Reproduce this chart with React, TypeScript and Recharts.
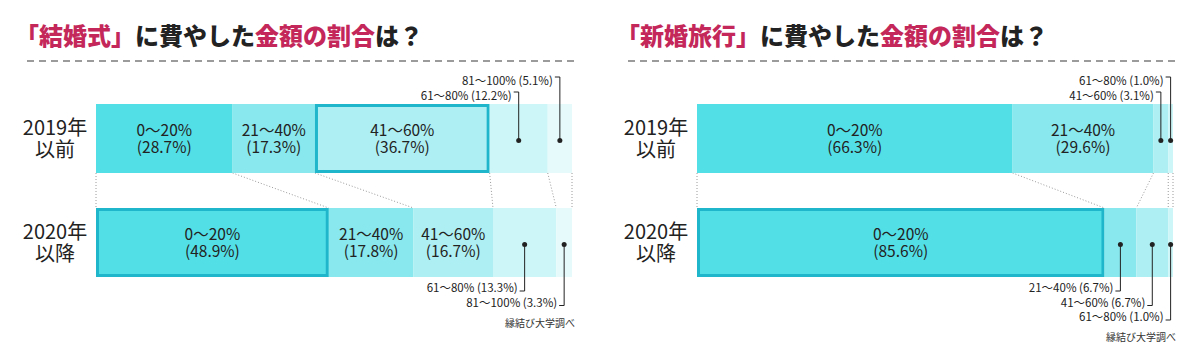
import { BarChart, Bar, XAxis, YAxis } from 'recharts'

const FONT = '"Noto Sans CJK JP", "Noto Sans", sans-serif'

// categories
const years = ['2019年', '2020年']
const periods = ['以前', '以降']
const ranges = ['0〜20%', '21〜40%', '41〜60%', '61〜80%', '81〜100%']

// shares (%)
const weddingBefore = [28.7, 17.3, 36.7, 12.2, 5.1]
const weddingAfter = [48.9, 17.8, 16.7, 13.3, 3.3]
const honeymoonBefore = [66.3, 29.6, 3.1, 1.0]
const honeymoonAfter = [85.6, 6.7, 6.7, 1.0]

// which segment is framed in each row (-1 = none)
const weddingHighlight = [2, 0]
const honeymoonHighlight = [-1, 0]

const COLORS = ['#53dfe6', '#88e8ed', '#aeeff3', '#cdf6f8', '#e7fafb']
const BORDER = '#1fb6cb'
const ACCENT = '#c4285a'
const INK = '#222'

const CHART_W = 600
const CHART_H = 358
const M_TOP = 86
const M_BOTTOM = 64
const M_RIGHT = 28
const AXIS_W = 96
const BAR = 69
const GAP = (CHART_H - M_TOP - M_BOTTOM) / 2 - BAR
const INLINE_MIN = 15

type Cfg = {
    before: number[]
    after: number[]
    highlight: number[]
}

const sum = (a: number[]) => a.reduce((s, v) => s + v, 0)

function makeShape(cfg: Cfg, seg: number) {
    return (p: any) => {
        const { x, y, width, height } = p
        const row = p.payload.row
        const vals = row === 0 ? cfg.before : cfg.after
        const v = vals[seg]
        if (!v || !width) return <g />
        const ppu = width / v
        const origin = x - sum(vals.slice(0, seg)) * ppu
        const cx = x + width / 2
        const cy = y + height / 2
        const els: any[] = []

        els.push(<rect key="r" x={x} y={y} width={width} height={height} fill={COLORS[seg]} />)
        if (cfg.highlight[row] === seg) {
            els.push(
                <rect key="h" x={x + 1.5} y={y + 1.5} width={width - 3} height={height - 3}
                    fill="none" stroke={BORDER} strokeWidth={3} />
            )
        }

        if (v >= INLINE_MIN) {
            els.push(
                <text key="t" x={cx} y={cy - 3} textAnchor="middle" fontSize={15.5} fill={INK} fontFamily={FONT}>
                    <tspan x={cx}>{ranges[seg]}</tspan>
                    <tspan x={cx} dy={17}>{`(${v.toFixed(1)}%)`}</tspan>
                </text>
            )
        } else {
            // small shares get a leader line to a label above (first row) or below (second row)
            const small = vals.map((_, i) => i).filter((i) => vals[i] < INLINE_MIN)
            const k = small.indexOf(seg)
            const dotY = cy + 2
            const labelY = row === 0 ? y - 9 - k * 15 : y + height + 10 + k * 14.5
            const tickY = row === 0 ? labelY - 3 : labelY + 4
            els.push(
                <circle key="d" cx={cx} cy={dotY} r={2.5} fill={INK} />,
                <polyline key="l" points={`${cx},${dotY} ${cx},${tickY} ${cx - 5},${tickY}`}
                    fill="none" stroke={INK} strokeWidth={1} />,
                <text key="ct" x={cx - 7} y={labelY} textAnchor="end" dominantBaseline="central"
                    fontSize={11.5} fill={INK} fontFamily={FONT}>{`${ranges[seg]} (${v.toFixed(1)}%)`}</text>
            )
        }

        if (row === 0) {
            const endX = origin + sum(cfg.after.slice(0, seg + 1)) * ppu
            const dot = { stroke: '#9a9a9a', strokeWidth: 1, strokeDasharray: '1 2' }
            els.push(<line key="c" x1={x + width} y1={y + height} x2={endX} y2={y + height + GAP} {...dot} />)
            if (seg === 0) {
                els.push(<line key="c0" x1={x} y1={y + height} x2={origin} y2={y + height + GAP} {...dot} />)
            }
        }
        return <g>{els}</g>
    }
}

function CatTick(props: any) {
    const { x, y, payload } = props
    const i = years.indexOf(payload.value)
    return (
        <text x={x - 39} y={y - 3} textAnchor="middle" fontSize={20} fill={INK} fontFamily={FONT}>
            <tspan x={x - 39}>{years[i]}</tspan>
            <tspan x={x - 39} dy={22}>{periods[i]}</tspan>
        </text>
    )
}

function Panel({ left, topic, cfg }: { left: number; topic: string; cfg: Cfg }) {
    const keys = cfg.before.map((_, i) => `s${i}`)
    const rows = years.map((cat, r) => {
        const vals = r === 0 ? cfg.before : cfg.after
        const o: any = { cat, row: r }
        keys.forEach((k, i) => (o[k] = vals[i]))
        return o
    })
    const nSmall = cfg.after.filter((v) => v < INLINE_MIN).length
    const sourceY = CHART_H - M_BOTTOM - (104 - BAR) / 2 + 10 + nSmall * 14.5 + 7

    return (
        <div style={{ position: 'absolute', left, top: 0, width: CHART_W, height: CHART_H }}>
            <div style={{
                position: 'absolute', left: 15, top: 22, fontFamily: FONT, fontWeight: 900,
                fontSize: 24, lineHeight: '26px', color: INK, whiteSpace: 'nowrap'
            }}>
                <span style={{ color: ACCENT }}>「{topic}」</span>に費やした
                <span style={{ color: ACCENT }}>金額の割合</span>は？
            </div>
            <svg style={{ position: 'absolute', left: 0, top: 0 }} width={CHART_W} height={70}>
                <line x1={27} y1={61} x2={578} y2={61} stroke="#9b9b9b" strokeWidth={2} strokeDasharray="7 5" />
            </svg>
            <div style={{ position: 'absolute', left: 0, top: 0 }}>
                <BarChart width={CHART_W} height={CHART_H} data={rows} layout="vertical"
                    margin={{ top: M_TOP, right: M_RIGHT, bottom: M_BOTTOM, left: 0 }} barSize={BAR}>
                    <XAxis type="number" domain={[0, 100]} hide />
                    <YAxis type="category" dataKey="cat" width={AXIS_W} axisLine={false}
                        tickLine={false} tickSize={0} tick={<CatTick />} />
                    {keys.map((k, i) => (
                        <Bar key={k} dataKey={k} stackId="a" fill={COLORS[i]}
                            shape={makeShape(cfg, i)} isAnimationActive={false} />
                    ))}
                </BarChart>
            </div>
            <div style={{
                position: 'absolute', right: 25, top: sourceY - 7, fontFamily: FONT,
                fontSize: 10, lineHeight: '14px', color: '#333'
            }}>縁結び大学調べ</div>
        </div>
    )
}

export default function App() {
    return (
        <div style={{ position: 'absolute', left: 0, top: 0, width: 1200, height: 358, background: '#fff' }}>
            <Panel left={0} topic="結婚式"
                cfg={{ before: weddingBefore, after: weddingAfter, highlight: weddingHighlight }} />
            <Panel left={601} topic="新婚旅行"
                cfg={{ before: honeymoonBefore, after: honeymoonAfter, highlight: honeymoonHighlight }} />
        </div>
    )
}
